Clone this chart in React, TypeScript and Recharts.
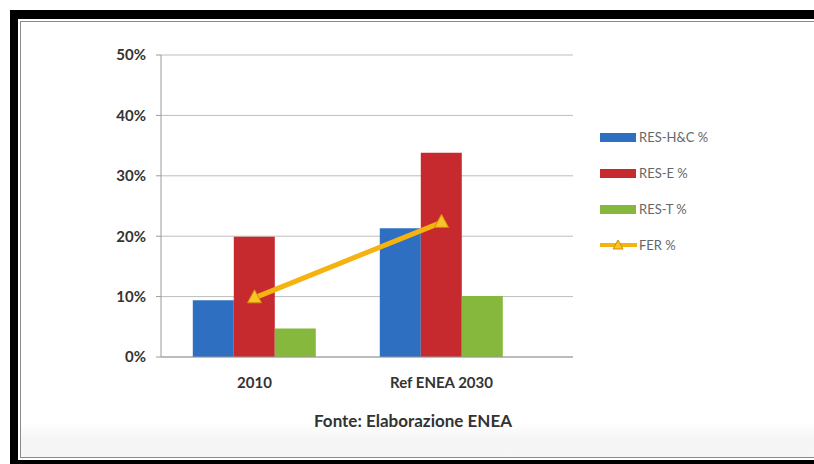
import React from "react";
import {
  ComposedChart,
  Bar,
  Line,
  XAxis,
  YAxis,
  CartesianGrid,
  Legend,
} from "recharts";

// categorie e serie (valori in %)
const categories = ["2010", "Ref ENEA 2030"];
const resHC = [9.4, 21.3];
const resE = [19.9, 33.8];
const resT = [4.7, 10.1];
const fer = [9.8, 22.3];
const yTicks = [0, 10, 20, 30, 40, 50];

const seriesNames = {
  resHC: "RES-H&C %",
  resE: "RES-E %",
  resT: "RES-T %",
  fer: "FER %",
};
const legendOrder = [seriesNames.resHC, seriesNames.resE, seriesNames.resT, seriesNames.fer];

const BLUE = "#2f6fc2";
const RED = "#c62a2e";
const GREEN = "#86b83d";
const ORANGE = "#f6b20e";

const data = categories.map((name, i) => ({
  name,
  resHC: resHC[i],
  resE: resE[i],
  resT: resT[i],
  fer: fer[i],
}));

const FONT = 'Lato, "Open Sans", sans-serif';

// marcatore triangolare della linea FER
const TriangleDot = (props: any) => {
  const { cx, cy, index } = props;
  if (cx == null || cy == null) return null;
  return (
    <polygon
      key={`tri-${index}`}
      points={`${cx},${cy - 8} ${cx - 7},${cy + 5} ${cx + 7},${cy + 5}`}
      fill="#f7c52a"
      stroke="#d38f00"
      strokeWidth={1}
    />
  );
};

const LegendContent = (props: any) => {
  const items = [...(props.payload || [])].sort(
    (a: any, b: any) => legendOrder.indexOf(a.value) - legendOrder.indexOf(b.value)
  );
  return (
    <div style={{ fontFamily: FONT }}>
      {items.map((entry: any) => (
        <div
          key={entry.value}
          style={{ display: "flex", alignItems: "center", height: 36 }}
        >
          {entry.type === "line" ? (
            <svg width={37} height={14}>
              <line x1={0} y1={7} x2={37} y2={7} stroke={ORANGE} strokeWidth={4} />
              <polygon points="18,2 13,11 23,11" fill="#f7c52a" stroke="#d38f00" strokeWidth={1} />
            </svg>
          ) : (
            <div style={{ width: 36, height: 9, background: entry.color, marginRight: 1 }} />
          )}
          <span style={{ fontSize: 13, color: "#666", marginLeft: 2 }}>{entry.value}</span>
        </div>
      ))}
    </div>
  );
};

export default function App() {
  return (
    <div style={{ position: "relative", width: 814, height: 464, background: "#fff", overflow: "hidden" }}>
      <style>{`body{margin:0}`}</style>
      {/* cornice nera */}
      <div style={{ position: "absolute", left: 10, top: 10, right: 0, bottom: 0, background: "#000" }} />
      <div
        style={{
          position: "absolute",
          left: 18,
          top: 19,
          right: -10,
          bottom: 4,
          background: "#fff",
        }}
      />
      <div
        style={{
          position: "absolute",
          left: 20,
          top: 21,
          right: -10,
          bottom: 6,
          border: "1px solid #8a8a8a",
          background: "linear-gradient(to bottom, #ffffff 0%, #ffffff 92%, #f5f5f5 96%, #f6f6f6 100%)",
        }}
      />

      <div style={{ position: "absolute", left: 0, top: 0 }}>
        <ComposedChart
          width={814}
          height={464}
          data={data}
          margin={{ top: 55, right: 61, left: 101, bottom: 67 }}
          barCategoryGap="17%"
          barGap={0}
        >
          <CartesianGrid vertical={false} stroke="#bdbdbd" />
          <XAxis
            dataKey="name"
            padding={{ left: 0, right: 38 }}
            tickLine={false}
            axisLine={{ stroke: "#9a9a9a" }}
            tick={{ fontSize: 15, fill: "#333", fontFamily: FONT, fontWeight: 700 }}
            tickMargin={14}
            height={40}
          />
          <YAxis
            domain={[0, 50]}
            ticks={yTicks}
            tickFormatter={(v) => `${v}%`}
            axisLine={{ stroke: "#9a9a9a" }}
            tickLine={{ stroke: "#9a9a9a" }}
            tickSize={5}
            tickMargin={10}
            tick={{ fontSize: 15, fill: "#333", fontFamily: FONT, fontWeight: 700 }}
            width={60}
          />
          <Legend
            layout="vertical"
            align="right"
            verticalAlign="top"
            content={<LegendContent />}
            wrapperStyle={{ left: 600, top: 119, width: 180 }}
          />
          <Bar dataKey="resHC" name={seriesNames.resHC} fill={BLUE} isAnimationActive={false} />
          <Bar dataKey="resE" name={seriesNames.resE} fill={RED} isAnimationActive={false} />
          <Bar dataKey="resT" name={seriesNames.resT} fill={GREEN} isAnimationActive={false} />
          <Line
            type="linear"
            dataKey="fer"
            name={seriesNames.fer}
            stroke={ORANGE}
            strokeWidth={5}
            dot={<TriangleDot />}
            activeDot={false}
            isAnimationActive={false}
          />
        </ComposedChart>
      </div>

      {/* fonte */}
      <div
        style={{
          position: "absolute",
          left: 0,
          width: 826,
          top: 410,
          textAlign: "center",
          fontFamily: FONT,
          fontSize: 17,
          fontWeight: 700,
          color: "#333",
        }}
      >
        Fonte: Elaborazione ENEA
      </div>
    </div>
  );
}
